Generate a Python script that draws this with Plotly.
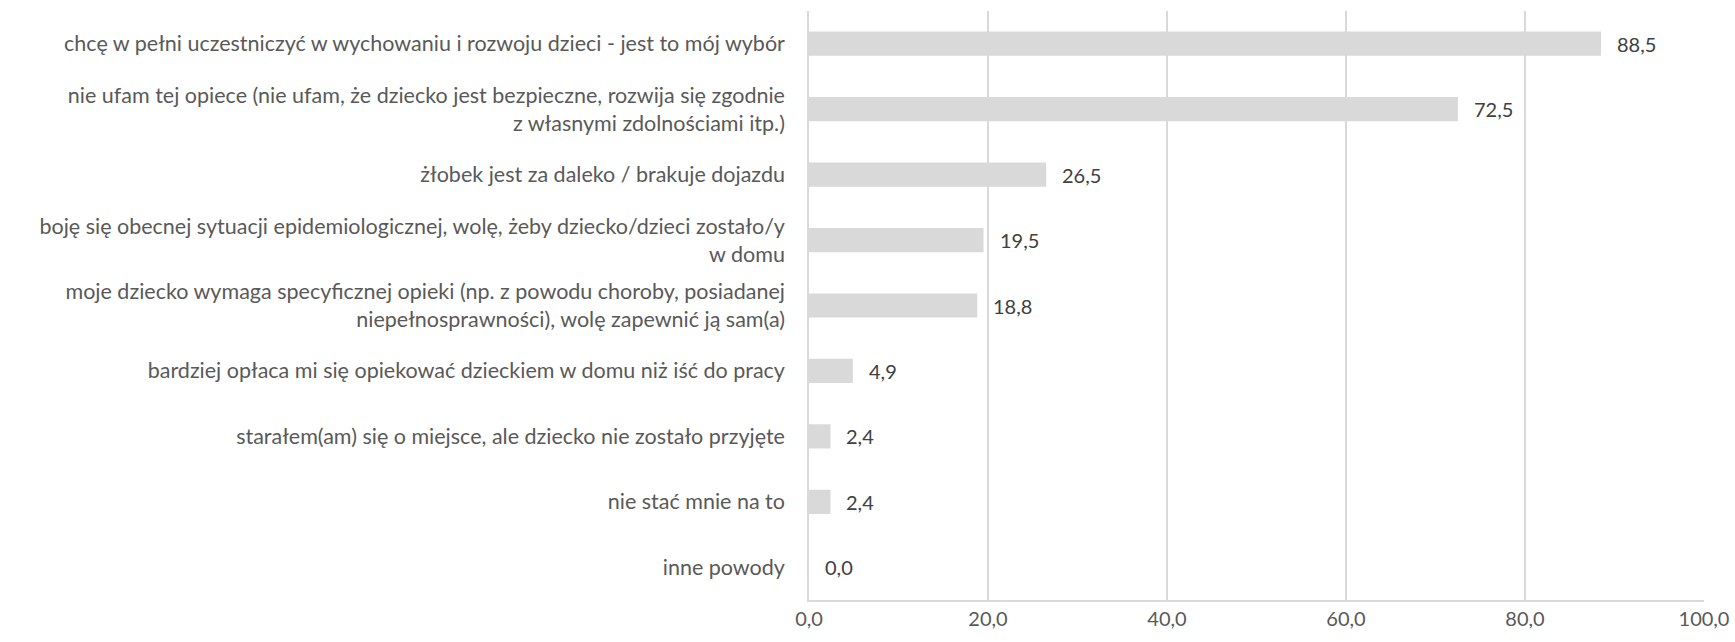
import plotly.graph_objects as go

categories = [
    "chcę w pełni uczestniczyć w wychowaniu i rozwoju dzieci - jest to mój wybór",
    "nie ufam tej opiece (nie ufam, że dziecko jest bezpieczne, rozwija się zgodnie<br>z własnymi zdolnościami itp.)",
    "żłobek jest za daleko / brakuje dojazdu",
    "boję się obecnej sytuacji epidemiologicznej, wolę, żeby dziecko/dzieci zostało/y<br>w domu",
    "moje dziecko wymaga specyficznej opieki (np. z powodu choroby, posiadanej<br>niepełnosprawności), wolę zapewnić ją sam(a)",
    "bardziej opłaca mi się opiekować dzieckiem w domu niż iść do pracy",
    "starałem(am) się o miejsce, ale dziecko nie zostało przyjęte",
    "nie stać mnie na to",
    "inne powody",
]
values = [88.5, 72.5, 26.5, 19.5, 18.8, 4.9, 2.4, 2.4, 0.0]
tick_vals = [0, 20, 40, 60, 80, 100]
tick_text = ["0,0", "20,0", "40,0", "60,0", "80,0", "100,0"]

FONT = "Lato"
GREY = "#595959"
BAR = "#D9D9D9"
FS = 21.5

fig = go.Figure()
fig.add_trace(go.Bar(
    x=values, y=categories, orientation="h",
    marker=dict(color=BAR, line=dict(width=0)),
    width=0.37, hoverinfo="skip",
))
for v, c in zip(values, categories):
    fig.add_annotation(x=v, y=c, text=f"{v:.1f}".replace(".", ","), showarrow=False,
                       xanchor="left", xshift=14, font=dict(family=FONT, size=20, color="#404040"))

fig.update_layout(
    width=1735, height=642,
    margin=dict(l=809, r=31, t=11, b=42),
    paper_bgcolor="white", plot_bgcolor="white",
    showlegend=False,
    font=dict(family=FONT, size=FS, color=GREY),
)
fig.update_xaxes(range=[0, 100], tickvals=tick_vals, ticktext=tick_text,
                 showgrid=True, gridcolor=BAR, gridwidth=1.5,
                 showline=True, linecolor=BAR, linewidth=1.5,
                 zeroline=False, ticks="", automargin=False,
                 tickfont=dict(family=FONT, size=20, color=GREY))
fig.update_yaxes(autorange="reversed", showline=True, linecolor=BAR, linewidth=1.5,
                 ticks="", ticklabelstandoff=18, automargin=False,
                 tickfont=dict(family=FONT, size=FS, color=GREY))

fig.write_html("out.html", config={"displayModeBar": False},
               post_script="document.body.style.margin='0';document.body.style.overflow='hidden';")
